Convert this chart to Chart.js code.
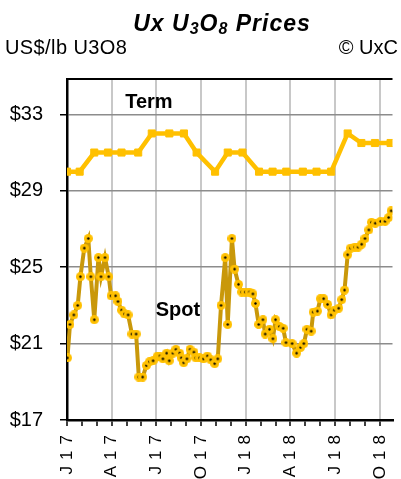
<!DOCTYPE html>
<html>
<head>
<meta charset="utf-8">
<script src="https://cdn.jsdelivr.net/npm/chart.js@4.4.0/dist/chart.umd.min.js"></script>
<style>
    body { margin: 0; background: #fff; }
    #wrap { position: relative; width: 401px; height: 479px; overflow: hidden; font-family: "Liberation Sans", Arial, sans-serif; }
    #chart { position: absolute; left: 0; top: 0; }
    .title { position: absolute; left: 222px; top: 12px; transform: translateX(-50%); white-space: nowrap;
        font-size: 23px; line-height: 23px; letter-spacing: 1px; font-weight: bold; font-style: italic; color: #000; }
    .title span { font-size: 16px; position: relative; top: 3px; }
    .sub { position: absolute; top: 37px; font-size: 20px; line-height: 20px; color: #000; white-space: nowrap; }
</style>
</head>
<body>
<div id="wrap">
    <canvas id="chart" width="401" height="479"></canvas>
    <div class="title">Ux U<span>3</span>O<span>8</span> Prices</div>
    <div class="sub" style="left:5px; letter-spacing:0.4px">US$/lb U3O8</div>
    <div class="sub" style="right:3px">© UxC</div>
</div>
<script>
// months counted from Jan 2017 (0 = J17)
var xTickLabels = ['J17', 'A17', 'J17', 'O17', 'J18', 'A18', 'J18', 'O18']
var yTicks = [17, 21, 25, 29, 33]

var termMonths = [0, 0.85, 1.83, 2.75, 3.66, 4.78, 5.69, 6.87, 7.85, 8.70, 9.94, 10.79, 11.78,
    12.89, 13.80, 14.72, 15.83, 16.75, 17.73, 18.84, 19.76, 20.67, 21.72]
var termPrices = [30, 30, 31, 31, 31, 31, 32, 32, 32, 31, 30, 31, 31,
    30, 30, 30, 30, 30, 30, 32, 31.5, 31.5, 31.5]

var spotMonths = [0.03, 0.20, 0.46, 0.72, 0.90, 1.16, 1.43, 1.60, 1.83, 2.11, 2.28, 2.55, 2.80, 2.96,
    3.26, 3.42, 3.66, 3.86, 4.10, 4.36, 4.64, 4.82, 5.08, 5.33, 5.54, 5.78, 6.08, 6.23, 6.44, 6.69,
    6.86, 7.11, 7.31, 7.56, 7.67, 7.83, 8.05, 8.26, 8.52, 8.65, 8.90, 9.16, 9.42, 9.65, 9.91, 10.12,
    10.34, 10.62, 10.79, 11.07, 11.25, 11.51, 11.73, 11.97, 12.23, 12.48, 12.65, 12.87, 13.15, 13.30,
    13.59, 13.82, 14.00, 14.26, 14.51, 14.70, 15.11, 15.41, 15.68, 15.90, 16.11, 16.39, 16.53, 16.81,
    17.01, 17.23, 17.49, 17.73, 17.94, 18.24, 18.44, 18.63, 18.84, 19.04, 19.32, 19.54, 19.78, 20.00,
    20.26, 20.44, 20.69, 21.05, 21.35, 21.59, 21.76]
var spotPrices = [20.25, 22.0, 22.5, 23.0, 24.5, 26.0, 26.5, 24.5, 22.25, 25.5, 24.5, 25.5, 24.5, 23.5,
    23.5, 23.2, 22.75, 22.55, 22.5, 21.5, 21.5, 19.25, 19.25, 19.85, 20.05, 20.1, 20.35, 20.35, 20.2, 20.5,
    20.1, 20.5, 20.7, 20.5, 20.25, 20.0, 20.2, 20.7, 20.55, 20.25, 20.25, 20.2, 20.35, 20.15, 19.95, 20.2,
    23.0, 25.5, 22.0, 26.5, 24.9, 24.1, 23.7, 23.7, 23.7, 23.6, 23.1, 22.0, 22.25, 21.5,
    21.75, 21.25, 22.25, 21.9, 21.8, 21.05, 21.0, 20.5, 20.8, 21.0, 21.75, 21.65, 22.65, 22.7,
    23.35, 23.35, 23.05, 22.5, 22.75, 22.85, 23.3, 23.8, 25.65, 26.0, 26.05, 26.05, 26.2, 26.5,
    26.95, 27.35, 27.3, 27.4, 27.4, 27.6, 27.95]

var colors = {
    term: '#FFC000',
    spotLine: '#C9980A',
    spotDot: '#FFC000',
    majorGrid: '#8c8c8c',
    minorGrid: '#c8c8c8',
    axis: '#000'
}
var fontFamily = '"Liberation Sans", Arial, sans-serif'

function makeDot() {
    var c = document.createElement('canvas')
    c.width = 9
    c.height = 9
    var g = c.getContext('2d')
    g.fillStyle = colors.spotDot
    g.beginPath()
    g.arc(4.5, 4.5, 4.5, 0, Math.PI * 2)
    g.fill()
    g.fillStyle = '#000'
    g.beginPath()
    g.arc(4.5, 4.5, 1.2, 0, Math.PI * 2)
    g.fill()
    return c
}

function toPoints(xs, ys) {
    return xs.map(function (x, i) { return {x: x, y: ys[i]} })
}

// series names written on the plot, plus the top frame line, plus wider spacing for x labels
var extras = {
    id: 'extras',
    afterDatasetsDraw: function (chart) {
        var ctx = chart.ctx
        var xs = chart.scales.x, ys = chart.scales.y
        var area = chart.chartArea
        ctx.save()
        ctx.strokeStyle = colors.axis
        ctx.lineWidth = 2
        ctx.beginPath()
        ctx.moveTo(area.left, area.top)
        ctx.lineTo(area.right, area.top)
        ctx.stroke()
        ctx.fillStyle = '#000'
        ctx.font = 'bold 20px ' + fontFamily
        ctx.textAlign = 'center'
        ctx.textBaseline = 'middle'
        ctx.fillText('Term', xs.getPixelForValue(5.5), ys.getPixelForValue(33.63))
        ctx.fillText('Spot', xs.getPixelForValue(7.45), ys.getPixelForValue(22.75))
        ctx.restore()
        ctx.letterSpacing = '6px'
    },
    afterDraw: function (chart) {
        chart.ctx.letterSpacing = '0px'
    }
}

new Chart(document.getElementById('chart'), {
    type: 'line',
    data: {
        datasets: [
            {
                label: 'Term',
                data: toPoints(termMonths, termPrices),
                borderColor: colors.term,
                backgroundColor: colors.term,
                borderWidth: 4.5,
                pointStyle: 'rect',
                pointRadius: 5,
                pointBorderWidth: 1,
                tension: 0
            },
            {
                label: 'Spot',
                data: toPoints(spotMonths, spotPrices),
                borderColor: colors.spotLine,
                backgroundColor: colors.spotDot,
                borderWidth: 4,
                pointStyle: makeDot(),
                pointRadius: 4.5,
                tension: 0
            }
        ]
    },
    options: {
        responsive: false,
        animation: false,
        devicePixelRatio: 1,
        events: [],
        layout: {padding: {top: 79, left: 0, right: 0, bottom: 0}},
        plugins: {
            legend: {display: false},
            tooltip: {enabled: false}
        },
        scales: {
            x: {
                type: 'linear',
                min: 0,
                max: 21.85,
                afterBuildTicks: function (scale) {
                    scale.ticks = []
                    for (var m = 0; m <= 21; m++) scale.ticks.push({value: m})
                },
                afterFit: function (scale) {
                    scale.height = 59
                    scale.paddingLeft = 0
                    scale.paddingRight = 0
                },
                grid: {
                    color: function (c) {
                        return c.tick && c.tick.value % 3 === 0 && c.tick.value > 0 ? colors.minorGrid : 'rgba(0,0,0,0)'
                    },
                    lineWidth: 2,
                    tickColor: colors.axis,
                    tickLength: 6,
                    tickWidth: 1.5
                },
                border: {display: true, color: colors.axis, width: 2.5},
                ticks: {
                    z: 1,
                    autoSkip: false,
                    maxRotation: 90,
                    minRotation: 90,
                    padding: 3,
                    color: '#000',
                    font: {size: 17, family: fontFamily},
                    callback: function (v) {
                        return v % 3 === 0 ? xTickLabels[v / 3] : ''
                    }
                }
            },
            y: {
                min: 17,
                max: 34.85,
                afterBuildTicks: function (scale) {
                    scale.ticks = yTicks.map(function (v) { return {value: v} })
                },
                afterFit: function (scale) {
                    scale.width = 67
                },
                grid: {
                    color: function (c) {
                        return c.tick && c.tick.value === 17 ? 'rgba(0,0,0,0)' : colors.majorGrid
                    },
                    lineWidth: 1.5,
                    tickColor: colors.axis,
                    tickLength: 7,
                    tickWidth: 1.5
                },
                border: {display: true, color: colors.axis, width: 2.5},
                ticks: {
                    padding: 17,
                    color: '#000',
                    font: {size: 20, family: fontFamily},
                    callback: function (v) { return '$' + v }
                }
            }
        }
    },
    plugins: [extras]
})
</script>
</body>
</html>
